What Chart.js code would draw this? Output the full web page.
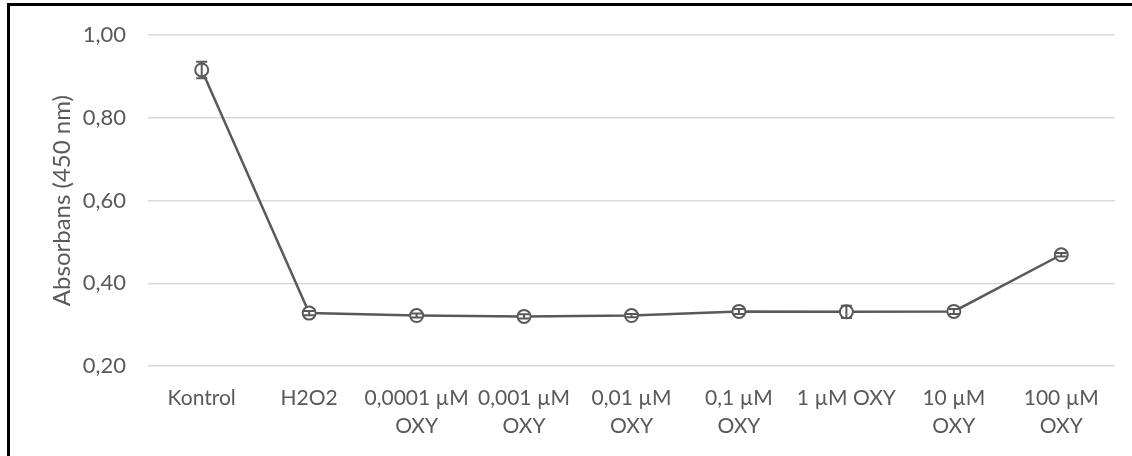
<!DOCTYPE html>
<html>
<head>
<meta charset="utf-8">
<script src="https://cdn.jsdelivr.net/npm/chart.js@4"></script>
<style>
  html, body { margin: 0; padding: 0; background: #fff; }
  #wrap { width: 1132px; height: 456px; position: relative; }
</style>
</head>
<body>
<div id="wrap"><canvas id="absChart" width="1132" height="456"></canvas></div>
<script>
// categories and values
const categories = [
  'Kontrol', 'H2O2', ['0,0001 µM', 'OXY'], ['0,001 µM', 'OXY'], ['0,01 µM', 'OXY'],
  ['0,1 µM', 'OXY'], '1 µM OXY', ['10 µM', 'OXY'], ['100 µM', 'OXY']
];
const absorbance = [0.916, 0.328, 0.322, 0.320, 0.322, 0.332, 0.331, 0.332, 0.469];
const errors = [0.020, 0.005, 0.005, 0.005, 0.004, 0.006, 0.015, 0.006, 0.004];
const yTicks = [0.2, 0.4, 0.6, 0.8, 1.0];

const grey = '#595959';
const fontFamily = 'Lato, "Open Sans", sans-serif';

// white background + black border on the top and left edges
const frame = {
  id: 'frame',
  beforeDraw(chart) {
    const ctx = chart.ctx;
    ctx.save();
    ctx.fillStyle = '#fff';
    ctx.fillRect(0, 0, chart.width, chart.height);
    ctx.fillStyle = '#000';
    ctx.fillRect(7, 3, chart.width - 7, 3);
    ctx.fillRect(7, 3, 3, chart.height - 3);
    ctx.restore();
  }
};

// vertical error bars with caps, placed through the chart's scales
const errorBars = {
  id: 'errorBars',
  afterDatasetsDraw(chart) {
    const ctx = chart.ctx;
    const x = chart.scales.x, y = chart.scales.y;
    ctx.save();
    ctx.strokeStyle = grey;
    ctx.lineWidth = 2;
    absorbance.forEach((v, i) => {
      const px = x.getPixelForValue(i);
      const top = y.getPixelForValue(v + errors[i]);
      const bot = y.getPixelForValue(v - errors[i]);
      ctx.beginPath();
      ctx.moveTo(px, top); ctx.lineTo(px, bot);
      ctx.moveTo(px - 5.5, top); ctx.lineTo(px + 5.5, top);
      ctx.moveTo(px - 5.5, bot); ctx.lineTo(px + 5.5, bot);
      ctx.stroke();
    });
    ctx.restore();
  }
};

new Chart(document.getElementById('absChart'), {
  type: 'line',
  data: {
    labels: categories,
    datasets: [{
      data: absorbance,
      borderColor: grey,
      borderWidth: 2.5,
      pointRadius: 6.5,
      pointBorderWidth: 2,
      pointBackgroundColor: '#fff',
      pointBorderColor: grey,
      tension: 0
    }]
  },
  options: {
    responsive: false,
    animation: false,
    layout: { padding: { top: 32, right: 17, left: 0, bottom: 0 } },
    plugins: { legend: { display: false }, tooltip: { enabled: false } },
    scales: {
      x: {
        offset: true,
        grid: { display: false },
        border: { display: false },
        ticks: {
          color: grey,
          font: { family: fontFamily, size: 21, lineHeight: 1.33 },
          padding: 10,
          maxRotation: 0,
          autoSkip: false
        },
        afterFit(scale) { scale.height = 90; }
      },
      y: {
        min: 0.2,
        max: 1.0,
        afterBuildTicks(scale) { scale.ticks = yTicks.map(v => ({ value: v })); },
        grid: { color: '#d9d9d9', lineWidth: 1.5, drawTicks: false },
        border: { display: false },
        ticks: {
          color: grey,
          font: { family: fontFamily, size: 22 },
          padding: 22,
          callback: v => v.toFixed(2).replace('.', ',')
        },
        title: {
          display: true,
          text: 'Absorbans (450 nm)',
          color: grey,
          font: { family: fontFamily, size: 24, lineHeight: 1.2 },
          padding: { top: 48, bottom: 0 }
        },
        afterFit(scale) { scale.width = 148; }
      }
    }
  },
  plugins: [frame, errorBars]
});
</script>
</body>
</html>
